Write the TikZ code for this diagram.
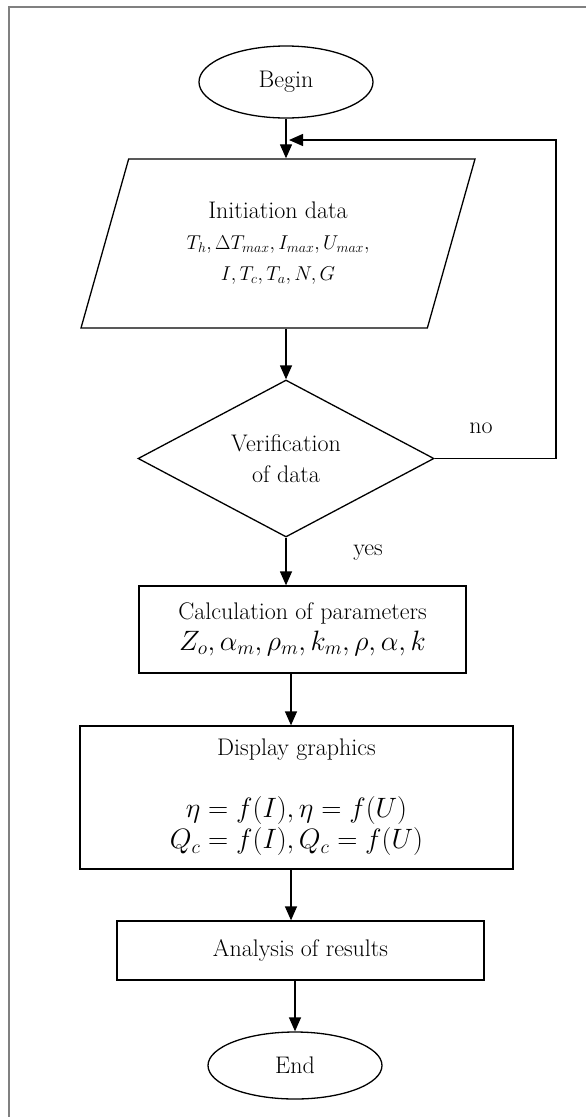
\RequirePackage{fix-cm}
\documentclass[tikz,border=0pt]{standalone}
\usetikzlibrary{shapes.geometric,arrows.meta}
\newcommand{\petitmath}{\fontsize{20}{30}\selectfont}
\newcommand{\grandmath}{\fontsize{28}{32}\selectfont}
\begin{document}
\begin{tikzpicture}[x=1pt,y=-1pt,
		every node/.style={font=\fontsize{24}{31}\selectfont, align=center},
		ligne/.style={line width=1.3pt},
		fleche/.style={ligne,-{Triangle[length=14pt,width=12pt]}},
		boite/.style={draw,ligne,rectangle,inner sep=0pt},
		terminal/.style={draw,ligne,ellipse,minimum width=174pt,inner sep=0pt},
		entree/.style={draw,ligne,trapezium,trapezium left angle=60,trapezium right angle=120,trapezium stretches body,inner sep=0pt},
		test/.style={draw,ligne,diamond,aspect=1.9,inner sep=0pt}]
		\useasboundingbox (0,0) rectangle (586,1117);
		\draw[gray,line width=2pt] (9,1117) -- (9,7) -- (586,7);

		\node[terminal,minimum height=72pt] (begin) at (286,82) {Begin};
		\node[entree,minimum width=394pt,minimum height=169pt] (data) at (278,243.5) {Initiation data\\ \petitmath $T_h, \Delta T_{max}, I_{max}, U_{max},$\\ \petitmath $I, T_c, T_a, N, G$};
		\node[test,minimum width=296pt,minimum height=157pt] (verif) at (286,458.5) {Verification\\ of data};
		\node[boite,minimum width=327pt,minimum height=87pt] (calc) at (302.5,629.5) {Calculation of parameters\\ \grandmath $Z_o, \alpha_m, \rho_m, k_m, \rho, \alpha, k$};
		\node[boite,minimum width=433pt,minimum height=143pt] (graph) at (296.5,797.5) {Display graphics\\[31pt] \grandmath $\eta = f(I), \eta = f(U)$\\ \grandmath $Q_c = f(I), Q_c = f(U)$};
		\node[boite,minimum width=367pt,minimum height=59pt] (analyse) at (300.5,950.5) {Analysis of results};
		\node[terminal,minimum height=67pt] (end) at (295,1065.5) {End};

		\node (non) at (481,428) {no};
		\node (oui) at (368,553) {yes};

		\coordinate (axe) at (291,0);
		\coordinate (retour) at (556,140);
		\coordinate (join) at (begin.south |- retour);

		\draw[fleche] (begin.south) -- (begin.south |- data.north);
		\draw[fleche] (verif.north |- data.south) -- (verif.north);
		\draw[fleche] (verif.south) -- (verif.south |- calc.north);
		\draw[fleche] (calc.south -| axe) -- (graph.north -| axe);
		\draw[fleche] (graph.south -| axe) -- (analyse.north -| axe);
		\draw[fleche] (analyse.south -| end.north) -- (end.north);
		\draw[fleche,shorten >=3pt] (verif.east) -| (retour) -- (join);
	\end{tikzpicture}
\end{document}
